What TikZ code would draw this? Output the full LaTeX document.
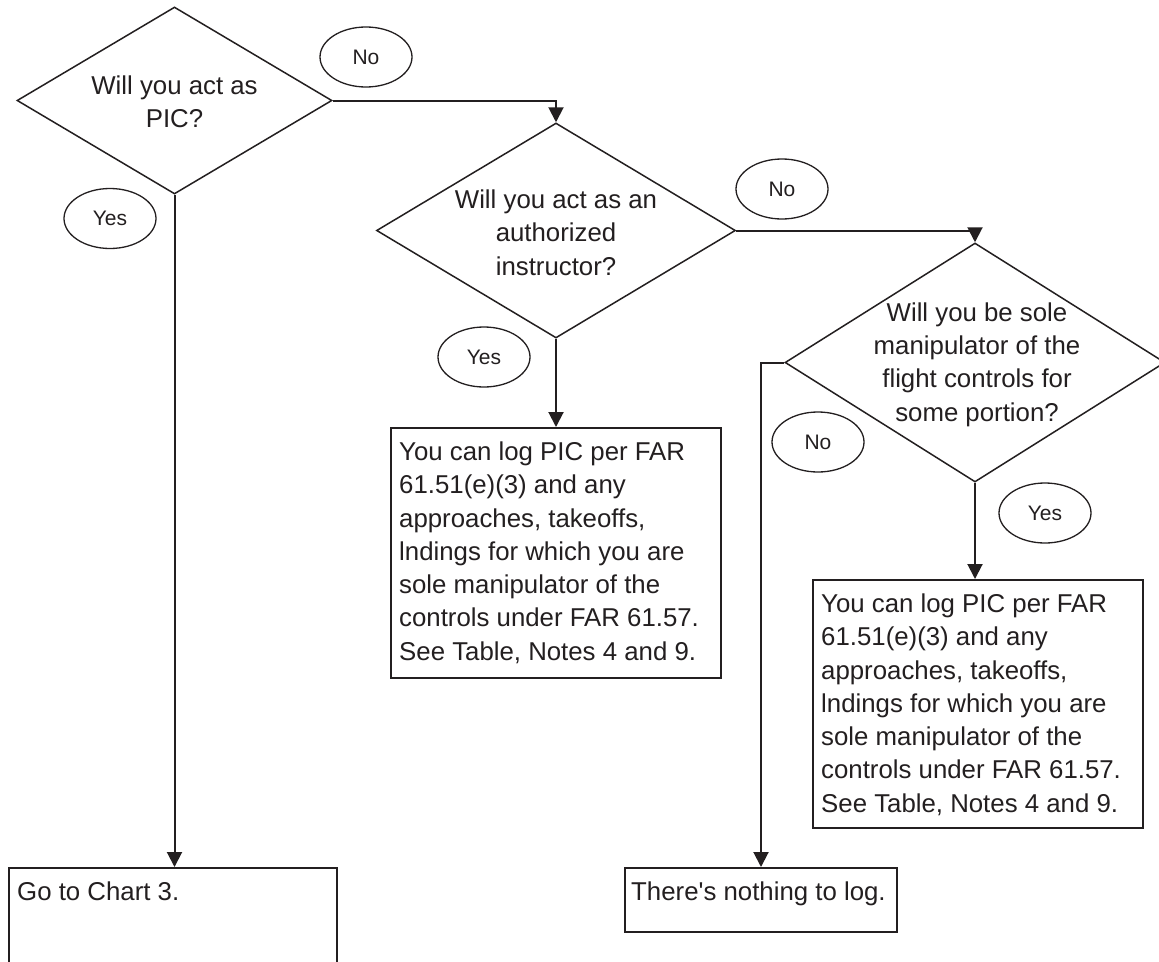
\documentclass[tikz,border=0pt]{standalone}
\usepackage{fontspec}
\setmainfont{Liberation Sans}[Ligatures=TeXOff]
\usetikzlibrary{shapes.geometric,arrows.meta}
\definecolor{ink}{RGB}{35,31,32}
\begin{document}
\begin{tikzpicture}[x=1pt,y=-1pt,
  conn/.style={draw=ink, line width=2pt, -{Triangle[width=15pt,length=15pt]}},
  dia/.style={diamond, draw=ink, line width=1.5pt, inner sep=0pt, aspect=1.68},
  lab/.style={ellipse, draw=ink, line width=1.3pt, minimum width=92pt, minimum height=60pt, inner sep=0pt, font=\fontsize{21}{24}\selectfont, text=ink},
  boxnode/.style={rectangle, draw=ink, line width=2pt, inner sep=0pt, anchor=north west},
  qtext/.style={font=\fontsize{25.8}{33.3}\selectfont, align=center, text=ink, inner sep=0pt},
  btext/.style={font=\fontsize{25.8}{33.3}\selectfont, align=left, text=ink, inner sep=0pt, anchor=north west}]
\useasboundingbox (0,0) rectangle (1159,961);
\clip (0,0) rectangle (1159,961);
\fill[white] (0,0) rectangle (1159,961);

% decisions
\node[dia, minimum width=315pt, minimum height=187pt] (d1) at (174.5,100.5) {};
\node[qtext] (t1) at (174.5,101.5) {Will you act as\\PIC?};
\node[dia, minimum width=359pt, minimum height=215pt] (d2) at (556,230.5) {};
\node[qtext] (t2) at (556,232.5) {Will you act as an\\authorized\\instructor?};
\node[dia, minimum width=380pt, minimum height=239pt] (d3) at (975,362.5) {};
\node[qtext] (t3) at (977,364.5) {Will you be sole\\manipulator of the\\flight controls for\\some portion?};

% boxes
\node[boxnode, minimum width=328pt, minimum height=140pt] (b1) at (8,867) {};
\node[btext] (tb1) at ([xshift=9pt,yshift=-14.5pt]b1.north west) {Go to Chart 3.};
\node[boxnode, minimum width=330pt, minimum height=250pt] (b2) at (390,427) {};
\node[btext] (tb2) at ([xshift=9pt,yshift=-14.5pt]b2.north west) {You can log PIC per FAR\\61.51(e)(3) and any\\approaches, takeoffs,\\lndings for which you are\\sole manipulator of the\\controls under FAR 61.57.\\See Table, Notes 4 and 9.};
\node[boxnode, minimum width=330pt, minimum height=248pt] (b3) at (812,579) {};
\node[btext] (tb3) at ([xshift=9pt,yshift=-14.5pt]b3.north west) {You can log PIC per FAR\\61.51(e)(3) and any\\approaches, takeoffs,\\lndings for which you are\\sole manipulator of the\\controls under FAR 61.57.\\See Table, Notes 4 and 9.};
\node[boxnode, minimum width=272pt, minimum height=64pt] (b4) at (624,867) {};
\node[btext] (tb4) at ([xshift=7pt,yshift=-14.5pt]b4.north west) {There's nothing to log.};

% answer labels
\node[lab] (n1) at (366,57) {No};
\node[lab] (y1) at (110,218.5) {Yes};
\node[lab] (n2) at (782,189) {No};
\node[lab] (y2) at (484,357) {Yes};
\node[lab] (n3) at (818,442) {No};
\node[lab] (y3) at (1045,513) {Yes};

% connectors
\draw[conn] (d1.east) -| (d2.north);
\draw[conn] (d1.south) -- (d1.south |- b1.north);
\draw[conn] (d2.east) -| (d3.north);
\draw[conn] (d2.south) -- (d2.south |- b2.north);
\draw[conn] (d3.south) -- (d3.south |- b3.north);
\draw[conn] (d3.west) -| (b4.north);
\end{tikzpicture}
\end{document}
